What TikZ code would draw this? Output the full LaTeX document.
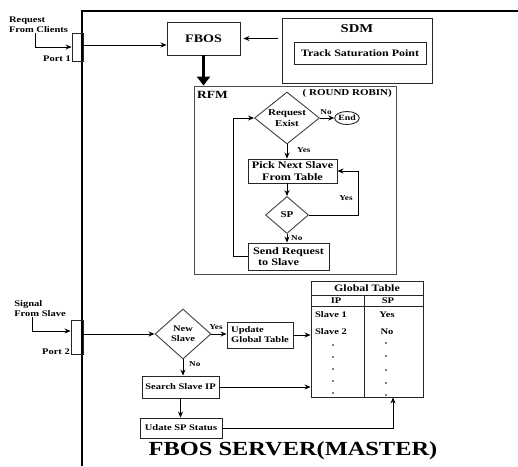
\documentclass[tikz,border=0pt]{standalone}
\usepackage{fontspec}
\setmainfont{Liberation Serif}[FakeStretch=1.22]
\usetikzlibrary{shapes.geometric,arrows.meta,calc}
\begin{document}
\begin{tikzpicture}[x=1pt,y=-1pt,
  every node/.style={font=\bfseries},
  box/.style={draw=black!85,line width=0.9pt,inner sep=0pt,align=center},
  dia/.style={draw=black!75,line width=0.9pt,diamond,inner sep=0pt},
  arr/.style={line width=0.8pt,-{Stealth[length=6pt,width=5pt]}},
  ln/.style={line width=0.8pt},
  lbl/.style={font=\bfseries\fontsize{7.5}{8}\selectfont,inner sep=0pt},
  sm/.style={font=\bfseries\fontsize{8.6}{10}\selectfont},
  md/.style={font=\bfseries\fontsize{9.8}{11}\selectfont},
  rf/.style={font=\bfseries\fontsize{10}{11.5}\selectfont},
  dot/.style={fill=black,circle,inner sep=0pt,minimum size=1.8pt}
]
\useasboundingbox (0,0) rectangle (518,466);
% frame
\coordinate (fb) at (82,466);
\coordinate (ftl) at (82,11);
\coordinate (ftr) at (518,11);
\draw[line width=1.1pt] (fb) -- (ftl) -- (ftr);

% ---- top: clients / FBOS / SDM
\node[sm,align=left,inner sep=0pt] (reqc) at (38.5,25) {Request\\From Clients};
\node[box,minimum width=11,minimum height=28] (port1) at (77.5,47) {};
\node[sm,anchor=base east,inner sep=0pt] (p1t) at (71,61) {Port 1};
\coordinate (c1) at (35,47);
\draw[arr] (reqc.south -| c1) -- (c1) -- (port1.west);

\node[box,font=\bfseries\fontsize{11.5}{12}\selectfont,minimum width=73,minimum height=33] (fbos) at (203.5,38.5) {FBOS};
\draw[arr] ([yshift=2pt]port1.east) -- ([yshift=2pt]port1.east -| fbos.west);

\node[box,minimum width=150,minimum height=65] (sdm) at (357,50.5) {};
\node[font=\bfseries\fontsize{12}{13}\selectfont,inner sep=0pt] (sdmt) at (357,29) {SDM};
\node[box,md,minimum width=132,minimum height=22] (track) at (360,53) {Track Saturation Point};
\draw[arr] ([xshift=-4pt]sdm.west |- fbos.east) -- ([xshift=3pt]fbos.east);

% ---- RFM
\node[box,draw=black!70,minimum width=202,minimum height=188] (rfm) at (295,180) {};
\draw[line width=2.6pt,-{Triangle[length=9pt,width=13pt]}] (fbos.south) -- (fbos.south |- rfm.north);
\node[font=\bfseries\fontsize{11}{12}\selectfont,anchor=west,inner sep=0pt] (rfmt) at (197,95) {RFM};
\node[font=\bfseries\fontsize{9}{10}\selectfont,anchor=east,inner sep=0pt] (rr) at (392,93) {( ROUND ROBIN)};

\node[dia,minimum width=65,minimum height=52] (req) at (287,118) {};
\node[font=\bfseries\fontsize{9}{11}\selectfont,align=center,inner sep=0pt] (reqt) at (req) {Request\\Exist};
\node[draw=black!85,ellipse,line width=0.9pt,minimum width=24,minimum height=13,inner sep=0pt,font=\bfseries\fontsize{8}{9}\selectfont] (endn) at (347,118) {End};
\draw[arr] (req.east) -- (endn.west);
\node[lbl] (no1) at (326,112) {No};

\node[box,rf,minimum width=89,minimum height=24] (pick) at (292.5,171) {Pick Next Slave\\From Table};
\draw[arr] (req.south) -- (req.south |- pick.north);
\node[lbl,anchor=west] (yes1) at (297,150) {Yes};

\node[dia,minimum width=43,minimum height=37] (sp) at (287,215) {};
\node[font=\bfseries\fontsize{9}{10}\selectfont,inner sep=0pt] (spt) at (sp) {SP};
\draw[arr] (sp.north |- pick.south) -- (sp.north);
\coordinate (spr) at (358,215);
\draw[arr] (sp.east) -- (spr) -- (spr |- pick.east) -- (pick.east);
\node[lbl] (yes2) at (346,198) {Yes};

\node[box,rf,align=left,minimum width=81,minimum height=27] (send) at (288.5,256.5) {Send Request\\\hspace*{5pt}to Slave};
\draw[arr] (sp.south) -- (sp.south |- send.north);
\node[lbl,anchor=west] (no2) at (291,238) {No};
\coordinate (lp) at (233,256.5);
\draw[arr] (send.west) -- (send.west -| lp) -- (lp |- req.west) -- (req.west);

% ---- bottom: slave signal
\node[sm,align=left,inner sep=0pt] (sig) at (40,309) {Signal\\From Slave};
\node[box,minimum width=12,minimum height=34] (port2) at (77,337) {};
\node[sm,anchor=base east,inner sep=0pt] (p2t) at (70,354) {Port 2};
\coordinate (c2) at (32,331);
\draw[arr] (sig.south -| c2) -- (c2) -- (c2 -| port2.west);

\node[dia,minimum width=56,minimum height=50] (ns) at (183,334) {};
\node[sm,align=center,inner sep=0pt] (nst) at (ns) {New\\Slave};
\draw[arr] (port2.east |- ns.west) -- (ns.west);

\node[box,sm,align=left,minimum width=66,minimum height=26] (upd) at (260,335) {Update\\Global Table};
\draw[arr] (ns.east) -- (ns.east -| upd.west);
\node[lbl] (yes3) at (216,327) {Yes};

% global table
\node[draw=black!85,line width=0.9pt,minimum width=112,minimum height=116,inner sep=0pt] (gt) at (367,339) {};
\coordinate (r1l) at (311,295); \coordinate (r1r) at (423,295);
\coordinate (r2l) at (311,306); \coordinate (r2r) at (423,306);
\coordinate (cvt) at (364,295); \coordinate (cvb) at (364,397);
\draw[line width=0.9pt,draw=black!85] (r1l) -- (r1r) (r2l) -- (r2r) (cvt) -- (cvb);
\node[md,inner sep=0pt] (gtt) at (367,288) {Global Table};
\node[sm,inner sep=0pt] (iph) at (336,300.5) {IP};
\node[sm,inner sep=0pt] (sph) at (388,300.5) {SP};
\node[sm,inner sep=0pt] (s1) at (331,315) {Slave 1};
\node[sm,inner sep=0pt] (s2) at (331,332) {Slave 2};
\node[sm,inner sep=0pt] (y1) at (387,315) {Yes};
\node[sm,inner sep=0pt] (n1) at (387,332) {No};
\foreach \yy [count=\i] in {345,357,369,381,393} \node[dot] (dl\i) at (333,\yy) {};
\foreach \yy [count=\i] in {343,356,370,383,395} \node[dot] (dr\i) at (386,\yy) {};

\draw[arr] (upd.east) -- (upd.east -| gt.west);

\node[box,sm,minimum width=77,minimum height=22] (search) at (180.5,387) {Search Slave IP};
\draw[arr] (ns.south) -- (ns.south |- search.north);
\node[lbl,anchor=west] (no3) at (189,364) {No};
\draw[arr] (search.east) -- (search.east -| gt.west);

\node[box,sm,minimum width=82,minimum height=20] (udate) at (181,428) {Udate SP Status};
\draw[arr] (search.south) -- (search.south |- udate.north);
\coordinate (uc) at (393,428);
\draw[arr] (udate.east) -- (uc) -- (uc |- gt.south);

\node[font=\bfseries\fontsize{20}{22}\selectfont,inner sep=0pt] (title) at (293,451) {FBOS SERVER(MASTER)};
\end{tikzpicture}
\end{document}
